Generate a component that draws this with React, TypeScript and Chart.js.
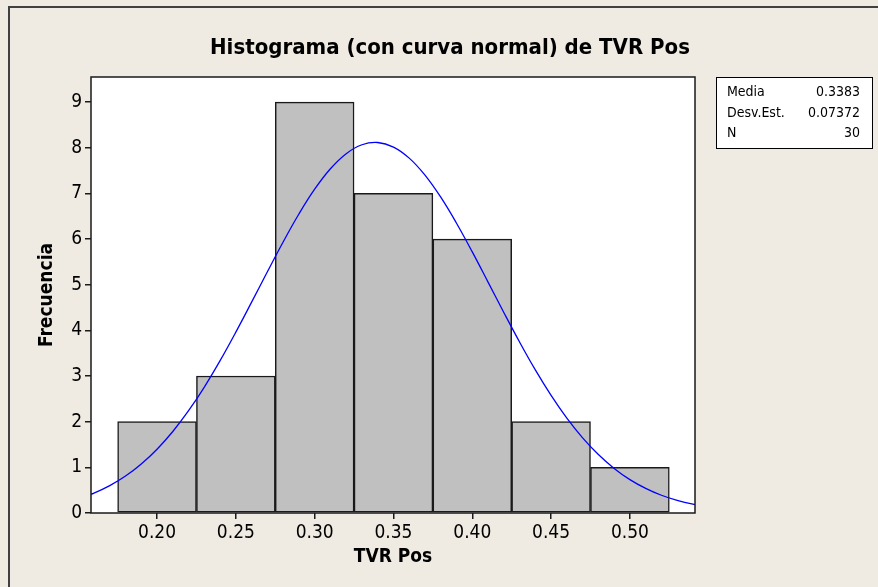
import React, { useEffect, useRef } from "react";
import { Chart, registerables } from "chart.js";

Chart.register(...registerables);

// ---------- data ----------
const binCenters = [0.2, 0.25, 0.3, 0.35, 0.4, 0.45, 0.5];
const frequencies = [2, 3, 9, 7, 6, 2, 1];

// fitted normal curve (frequency scale)
const curveX = [
  0.15, 0.16, 0.17, 0.18, 0.19, 0.2, 0.21, 0.22, 0.23, 0.24, 0.25, 0.26, 0.27, 0.28,
  0.29, 0.3, 0.31, 0.32, 0.33, 0.34, 0.35, 0.36, 0.37, 0.38, 0.39, 0.4, 0.41, 0.42,
  0.43, 0.44, 0.45, 0.46, 0.47, 0.48, 0.49, 0.5, 0.51, 0.52, 0.53, 0.54, 0.55,
];
const curveY = [
  0.311, 0.436, 0.599, 0.809, 1.073, 1.397, 1.785, 2.24, 2.759, 3.337, 3.962, 4.618,
  5.284, 5.937, 6.549, 7.092, 7.54, 7.871, 8.066, 8.115, 8.015, 7.773, 7.4, 6.917,
  6.347, 5.719, 5.058, 4.392, 3.745, 3.134, 2.576, 2.078, 1.646, 1.28, 0.977, 0.732,
  0.539, 0.389, 0.276, 0.192, 0.131,
];

const xTickValues = [0.2, 0.25, 0.3, 0.35, 0.4, 0.45, 0.5];
const yTickValues = [0, 1, 2, 3, 4, 5, 6, 7, 8, 9];

const statLabels = ["Media", "Desv.Est.", "N"];
const statValues = ["0.3383", "0.07372", "30"];

const titleText = "Histograma (con curva normal) de TVR Pos";
const xTitle = "TVR Pos";
const yTitle = "Frecuencia";

const FONT = "Tahoma, 'DejaVu Sans Condensed', 'DejaVu Sans', sans-serif";

const framePlugin = {
  id: "frame",
  beforeDraw(chart: any) {
    const { ctx, width, height, chartArea: a } = chart;
    ctx.save();
    ctx.fillStyle = "#EFEBE2";
    ctx.fillRect(0, 0, width, height);
    ctx.strokeStyle = "#404040";
    ctx.lineWidth = 2;
    ctx.beginPath();
    ctx.moveTo(9, height);
    ctx.lineTo(9, 7);
    ctx.lineTo(width, 7);
    ctx.stroke();
    ctx.fillStyle = "#FFFFFF";
    ctx.fillRect(a.left, a.top, a.right - a.left, a.bottom - a.top);
    ctx.restore();
  },
  afterDraw(chart: any) {
    const { ctx, chartArea: a } = chart;
    ctx.save();
    ctx.strokeStyle = "#1a1a1a";
    ctx.lineWidth = 1.5;
    ctx.strokeRect(a.left, a.top, a.right - a.left, a.bottom - a.top);

    // statistics box
    const bx = 716.5, by = 77.5, bw = 156, bh = 71;
    ctx.fillStyle = "#FFFFFF";
    ctx.fillRect(bx, by, bw, bh);
    ctx.strokeStyle = "#000";
    ctx.lineWidth = 1;
    ctx.strokeRect(bx, by, bw, bh);
    ctx.fillStyle = "#000";
    ctx.font = `14px ${FONT}`;
    ctx.textBaseline = "middle";
    statLabels.forEach((lab, i) => {
      const y = 92.5 + i * 20.5;
      ctx.textAlign = "left";
      ctx.fillText(lab, 727, y);
      ctx.textAlign = "right";
      ctx.fillText(statValues[i], 860, y);
    });
    ctx.restore();
  },
};

export default function App() {
  const ref = useRef<HTMLCanvasElement | null>(null);

  useEffect(() => {
    document.body.style.margin = "0";
    document.body.style.overflow = "hidden";
    if (!ref.current) return;
    Chart.defaults.font.family = FONT;
    const chart = new Chart(ref.current, {
      type: "bar",
      data: {
        datasets: [
          {
            type: "line",
            data: curveX.map((x, i) => ({ x, y: curveY[i] })),
            borderColor: "#0000FF",
            borderWidth: 1.3,
            pointRadius: 0,
            tension: 0.4,
            order: 0,
          } as any,
          {
            type: "bar",
            data: binCenters.map((x, i) => ({ x, y: frequencies[i] })),
            backgroundColor: "#C0C0C0",
            borderColor: "#1a1a1a",
            borderWidth: 1.5,
            borderSkipped: false,
            barPercentage: 1,
            categoryPercentage: 1,
            order: 1,
          } as any,
        ],
      },
      options: {
        responsive: true,
        maintainAspectRatio: false,
        animation: false,
        events: [],
        layout: { padding: { left: 22, right: 0, top: 0, bottom: 0 } },
        plugins: {
          legend: { display: false },
          tooltip: { enabled: false },
          title: {
            display: true,
            text: titleText,
            color: "#000",
            font: { size: 22, weight: "bold", family: FONT },
            padding: { top: 35, bottom: 15.6 },
          },
        },
        scales: {
          x: {
            type: "linear",
            min: 0.1581,
            max: 0.5413,
            offset: false,
            afterBuildTicks: (s: any) => {
              s.ticks = xTickValues.map((v) => ({ value: v }));
            },
            afterFit: (s: any) => {
              s.height = 74;
            },
            ticks: {
              color: "#000",
              font: { size: 19 },
              padding: 3,
              maxRotation: 0,
              autoSkip: false,
              callback: (v: any) => Number(v).toFixed(2),
            },
            grid: { drawOnChartArea: false, drawTicks: true, tickLength: 6, color: "#1a1a1a", lineWidth: 1.5, offset: false },
            border: { display: false },
            title: {
              display: true,
              text: xTitle,
              color: "#000",
              font: { size: 19, weight: "bold" },
              padding: { top: 0, bottom: 18.5 },
            },
          },
          y: {
            type: "linear",
            min: 0,
            max: 9.55,
            afterBuildTicks: (s: any) => {
              s.ticks = yTickValues.map((v) => ({ value: v }));
            },
            afterFit: (s: any) => {
              s.width = 69;
            },
            ticks: { color: "#000", font: { size: 19 }, padding: 3 },
            grid: { drawOnChartArea: false, drawTicks: true, tickLength: 6, color: "#1a1a1a", lineWidth: 1.5 },
            border: { display: false },
            title: {
              display: true,
              text: yTitle,
              color: "#000",
              font: { size: 19, weight: "bold" },
              padding: { top: 14, bottom: 0 },
            },
          },
          yRight: {
            type: "linear",
            position: "right",
            display: true,
            ticks: { display: false },
            grid: { display: false },
            border: { display: false },
            afterFit: (s: any) => {
              s.width = 183;
            },
          },
        },
      } as any,
      plugins: [framePlugin],
    });
    return () => chart.destroy();
  }, []);

  return (
    <div style={{ width: 878, height: 587, position: "relative" }}>
      <canvas ref={ref} />
    </div>
  );
}
